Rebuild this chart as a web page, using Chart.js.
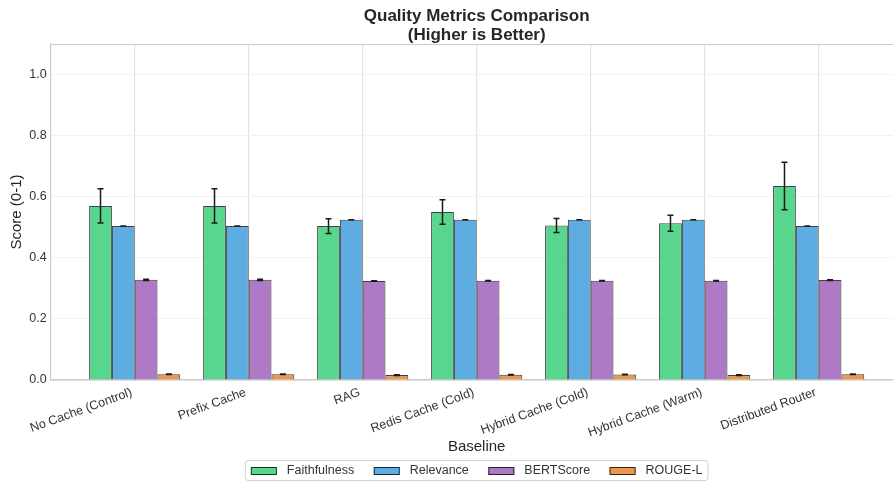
<!DOCTYPE html>
<html><head><meta charset="utf-8">
<script src="https://cdn.jsdelivr.net/npm/chart.js@4.4.0/dist/chart.umd.min.js"></script>
<style>html,body{margin:0;padding:0;background:#fff;overflow:hidden}#wrap{position:relative;width:893px;height:482px}</style>
</head><body><div id="wrap"><canvas id="c"></canvas></div>
<script>
const categories = ['No Cache (Control)', 'Prefix Cache', 'RAG', 'Redis Cache (Cold)', 'Hybrid Cache (Cold)', 'Hybrid Cache (Warm)', 'Distributed Router'];
const seriesNames = ['Faithfulness', 'Relevance', 'BERTScore', 'ROUGE-L'];
const faithfulness = [0.570, 0.570, 0.504, 0.550, 0.506, 0.513, 0.635];
const faithfulnessErr = [0.056, 0.056, 0.024, 0.040, 0.023, 0.026, 0.078];
const relevance = [0.504, 0.504, 0.525, 0.525, 0.525, 0.525, 0.504];
const relevanceErr = [0, 0, 0, 0, 0, 0, 0];
const bertscore = [0.328, 0.328, 0.324, 0.325, 0.325, 0.325, 0.327];
const bertscoreErr = [0.002, 0.002, 0.001, 0.001, 0.001, 0.001, 0.001];
const rougeL = [0.019, 0.019, 0.016, 0.017, 0.018, 0.016, 0.019];
const rougeLErr = [0.001, 0.001, 0.001, 0.001, 0.001, 0.001, 0.001];
const yTicks = [0.0, 0.2, 0.4, 0.6, 0.8, 1.0];

const colors = ['rgba(46,204,113,0.8)', 'rgba(52,152,219,0.8)', 'rgba(155,89,182,0.8)', 'rgba(230,126,34,0.8)'];
const values = [faithfulness, relevance, bertscore, rougeL];
const errors = [faithfulnessErr, relevanceErr, bertscoreErr, rougeLErr];

const FONT = "'Liberation Sans', Arial, Helvetica, sans-serif";
Chart.defaults.font.family = FONT;
Chart.defaults.color = '#333';

const X_MIN = -0.737, X_MAX = 6.652, X_FULL = 6.737;

const datasets = seriesNames.map((name, k) => ({
  label: name,
  data: values[k].map((v, i) => ({x: i, y: v})),
  backgroundColor: colors[k],
  borderColor: 'rgba(0,0,0,0.75)',
  borderWidth: 1,
  categoryPercentage: 0.8,
  barPercentage: 1.0,
  errors: errors[k]
}));

const decor = {
  id: 'decor',
  beforeDatasetsDraw(chart) {
    const {ctx, chartArea: a} = chart;
    ctx.save();
    ctx.strokeStyle = '#cccccc';
    ctx.lineWidth = 1.2;
    ctx.beginPath();
    ctx.moveTo(a.left, a.top + 0.5);
    ctx.lineTo(a.right, a.top + 0.5);
    ctx.stroke();
    ctx.restore();
  },
  afterDatasetsDraw(chart) {
    const {ctx} = chart;
    const ys = chart.scales.y;
    ctx.save();
    ctx.strokeStyle = '#1a1a1a';
    ctx.lineWidth = 1.5;
    chart.data.datasets.forEach((ds, k) => {
      const meta = chart.getDatasetMeta(k);
      meta.data.forEach((bar, i) => {
        const v = values[k][i], e = ds.errors[i];
        const x = bar.x;
        const yt = ys.getPixelForValue(v + e), yb = ys.getPixelForValue(v - e);
        ctx.beginPath();
        ctx.moveTo(x, yt); ctx.lineTo(x, yb);
        ctx.moveTo(x - 3, yt); ctx.lineTo(x + 3, yt);
        ctx.moveTo(x - 3, yb); ctx.lineTo(x + 3, yb);
        ctx.stroke();
      });
    });
    ctx.restore();
  },
  afterDraw(chart) {
    const {ctx, chartArea: a} = chart;
    const xs = chart.scales.x;
    const axRight = xs.getPixelForValue(X_FULL);
    const cx = (a.left + axRight) / 2;
    ctx.save();
    ctx.fillStyle = '#262626';
    ctx.textAlign = 'center';
    ctx.textBaseline = 'alphabetic';
    ctx.font = 'bold 17px ' + FONT;
    ctx.fillText('Quality Metrics Comparison', cx, 20.5);
    ctx.fillText('(Higher is Better)', cx, 39.5);
    ctx.textBaseline = 'middle';
    ctx.font = '15px ' + FONT;
    ctx.fillText('Baseline', cx, 447);
    ctx.save();
    ctx.translate(17, (a.top + a.bottom) / 2);
    ctx.rotate(-Math.PI / 2);
    ctx.fillText('Score (0-1)', 0, 0);
    ctx.restore();

    // legend
    ctx.font = '12.5px ' + FONT;
    const sw = 26, sh = 8, gapT = 10, gapI = 19.5;
    const widths = seriesNames.map(n => ctx.measureText(n).width);
    const total = widths.reduce((s, w) => s + sw + gapT + w, 0) + gapI * (seriesNames.length - 1);
    let x = cx - total / 2;
    const ty = 471;
    const bx = x - 6, bw = total + 11, by = 460, bh = 20;
    ctx.fillStyle = 'rgba(255,255,255,0.8)';
    ctx.strokeStyle = '#d0d0d0';
    ctx.lineWidth = 1;
    ctx.beginPath();
    ctx.roundRect(bx + 0.5, by + 0.5, bw, bh, 3);
    ctx.fill();
    ctx.stroke();
    ctx.textAlign = 'left';
    seriesNames.forEach((n, k) => {
      ctx.fillStyle = colors[k];
      ctx.fillRect(x, ty - sh / 2, sw, sh);
      ctx.strokeStyle = 'rgba(0,0,0,0.75)';
      ctx.strokeRect(x + 0.5, ty - sh / 2 + 0.5, sw - 1, sh - 1);
      ctx.fillStyle = '#333';
      ctx.fillText(n, x + sw + gapT, ty - 0.5);
      x += sw + gapT + widths[k] + gapI;
    });
    ctx.restore();
  }
};

new Chart(document.getElementById('c'), {
  type: 'bar',
  data: {datasets},
  options: {
    responsive: true,
    maintainAspectRatio: false,
    animation: false,
    layout: {padding: {top: 44, left: 0, right: 0, bottom: 0}},
    plugins: {legend: {display: false}, title: {display: false}, tooltip: {enabled: false}},
    scales: {
      x: {
        type: 'linear',
        min: X_MIN, max: X_MAX,
        offset: false,
        grid: {color: '#e3e3e3', lineWidth: 1.2, drawTicks: false, offset: false},
        border: {color: '#cccccc', width: 1.5},
        afterBuildTicks(s) { s.ticks = categories.map((c, i) => ({value: i})); },
        afterFit(s) { s.height = 102; },
        ticks: {
          autoSkip: false, minRotation: 20, maxRotation: 20, padding: 5, labelOffset: -3,
          font: {size: 12.5}, color: '#333',
          callback: (v) => categories[v]
        }
      },
      y: {
        min: 0, max: 1.1,
        grid: {color: '#f2f2f2', lineWidth: 1, drawTicks: false},
        border: {color: '#cccccc', width: 1.2},
        afterBuildTicks(s) { s.ticks = yTicks.map(v => ({value: v})); },
        afterFit(s) { s.width = 50.7; },
        ticks: {padding: 4, font: {size: 12.5}, color: '#333', callback: (v) => Number(v).toFixed(1)}
      }
    }
  },
  plugins: [decor]
});
</script>
</body></html>
